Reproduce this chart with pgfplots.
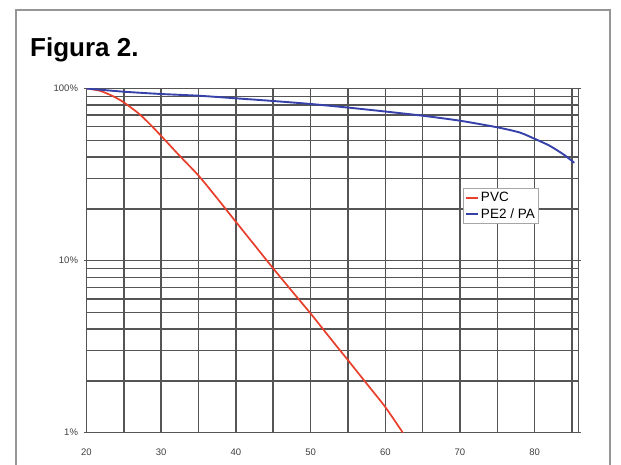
\documentclass[border=0pt]{standalone}
\usepackage{pgfplots}
\pgfplotsset{compat=1.18}
\usepackage{fontspec}
\setmainfont{Liberation Sans}
\definecolor{pvcred}{RGB}{232,62,42}
\definecolor{peblue}{RGB}{55,65,170}
\definecolor{gridc}{RGB}{85,85,85}
\definecolor{framec}{RGB}{150,150,150}
\begin{document}
\begin{tikzpicture}[x=1pt,y=1pt]
\useasboundingbox (0,0) rectangle (621,464);
\fill[white] (0,0) rectangle (621,464);
\draw[line width=2.5pt, framec] (16,-20) -- (16,454) -- (610,454) -- (610,-20);
\node[anchor=base west, inner sep=0pt, font=\fontsize{26}{30}\selectfont\bfseries] at (30,407.5) {Figura 2.};
\begin{axis}[
  at={(86.5pt,31.3pt)}, anchor=south west,
  scale only axis, width=491.5pt, height=344.2pt,
  ymode=log, xmin=20, xmax=85.8, ymin=1, ymax=100,
  xtick={20,30,...,80}, minor xtick={25,35,...,85},
  ytick={1,10,100}, yticklabels={1\%,10\%,100\%},
  minor ytick={2,3,4,5,6,7,8,9,20,30,40,50,60,70,80,90},
  grid=both,
  major grid style={gridc, line width=1.5pt},
  minor grid style={gridc, line width=1.5pt},
  axis line style={gridc, line width=1pt},
  xtick style={draw=none}, minor tick length=0pt,
  ytick style={gridc, line width=0.6pt}, major tick length=3pt, tick align=outside,
  /pgf/number format/assume math mode=true,
  tick label style={font=\fontsize{9.5}{10}\selectfont, text=black!75},
  xticklabel style={yshift=-10pt},
  yticklabel style={xshift=-2pt},
  legend style={at={(0.766,0.711)}, anchor=north west, draw=gray!70, line width=0.8pt,
    fill=white, font=\fontsize{13.5}{15}\selectfont, inner sep=2pt, row sep=1pt},
  legend cell align=left,
  legend image code/.code={\draw[#1] (0pt,0pt) -- (12pt,0pt);},
]
\addlegendimage{pvcred, line width=1.6pt}
\addlegendentry{PVC}
\addlegendimage{peblue, line width=1.6pt}
\addlegendentry{PE2 / PA}
\addplot[pvcred, line width=1.7pt, forget plot, smooth, tension=0.4] coordinates {
(20,100) (21.8,97) (23.6,90) (25,83) (27,71.5) (28.5,62) (30,53) (32.5,40.5)
(35,31.2) (37.5,23) (40,16.8) (42.5,12.3) (45,9.0) (47.5,6.65) (50,4.93) (52.5,3.6)
(55,2.64) (57.5,1.93) (60,1.41) (62.35,1.0)
};
\addplot[peblue, line width=1.9pt, forget plot, smooth, tension=0.4] coordinates {
(20,100) (25,95.8) (30,92.9) (35,90.8) (40,87.7) (45,84.6) (50,81.3) (55,77.5)
(60,73.5) (65,69.5) (70,65) (75,59.5) (78,55.5) (80,51) (82,46.5) (84,41) (85.3,37)
};
\end{axis}
\end{tikzpicture}
\end{document}
